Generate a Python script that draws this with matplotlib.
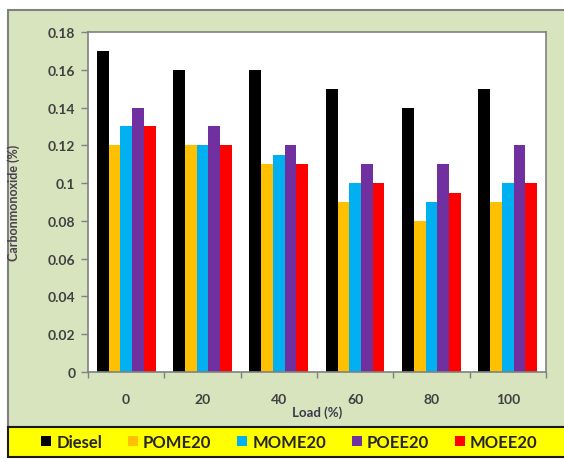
import matplotlib
matplotlib.use("Agg")
import matplotlib.pyplot as plt
from matplotlib.patches import Rectangle
from matplotlib.ticker import FixedLocator, FuncFormatter
import numpy as np

# Engine load (%) and CO emissions (%) per fuel blend
loads = ["0", "20", "40", "60", "80", "100"]
diesel = [0.17, 0.16, 0.16, 0.15, 0.14, 0.15]
pome20 = [0.12, 0.12, 0.11, 0.09, 0.08, 0.09]
mome20 = [0.13, 0.12, 0.115, 0.10, 0.09, 0.10]
poee20 = [0.14, 0.13, 0.12, 0.11, 0.11, 0.12]
moee20 = [0.13, 0.12, 0.11, 0.10, 0.095, 0.10]

series_names = ["Diesel", "POME20", "MOME20", "POEE20", "MOEE20"]
series_colors = ["#000000", "#FFC000", "#00B0F0", "#7030A0", "#FF0000"]
series_values = [diesel, pome20, mome20, poee20, moee20]

plt.rcParams["font.family"] = ["Lato", "DejaVu Sans"]
plt.rcParams["font.weight"] = "bold"
text_color = "#404040"

fig = plt.figure(figsize=(5.64, 4.60), dpi=100)
fig.patch.set_facecolor("white")

# Green chart panel and yellow legend strip
fig.add_artist(Rectangle((0.0142, 0.0696), 1.0, 0.9064, transform=fig.transFigure,
                         facecolor="#D7E4BD", edgecolor="#808080", linewidth=1.5, zorder=0))
fig.add_artist(Rectangle((0.0142, 0.0043), 1.0, 0.0653, transform=fig.transFigure,
                         facecolor="#FFFF00", edgecolor="#1a1a1a", linewidth=1.5, zorder=0))

ax = fig.add_axes([0.156, 0.1891, 0.812, 0.7392])
ax.set_facecolor("white")

x = np.arange(len(loads))
w = 1 / 6.5
handles = []
for i, (name, color, vals) in enumerate(zip(series_names, series_colors, series_values)):
    h = ax.bar(x + (i - 2) * w, vals, width=w, color=color, label=name, linewidth=0)
    handles.append(h)

ax.set_xlim(-0.5, len(loads) - 0.5)
ax.set_ylim(0, 0.18)
ax.set_yticks(np.arange(0, 0.1801, 0.02))
ax.yaxis.set_major_formatter(FuncFormatter(lambda v, p: "%g" % round(v, 2)))

ax.set_xticks(x)
ax.set_xticklabels(loads)
ax.xaxis.set_minor_locator(FixedLocator(np.arange(-0.5, len(loads), 1.0)))
ax.tick_params(axis="x", which="major", length=0, pad=15, labelsize=10, labelcolor=text_color)
ax.tick_params(axis="x", which="minor", length=4, direction="out", color="#808080", width=1)
ax.tick_params(axis="y", which="major", length=5, direction="out", color="#808080", width=1,
               labelsize=10, labelcolor=text_color, pad=4)

for s in ax.spines.values():
    s.set_color("#808080")
    s.set_linewidth(1.2)

ax.set_xlabel("Load (%)", fontsize=9.5, fontweight="bold", color="#3a3a4a", labelpad=0)
ax.set_ylabel("Carbonmonoxide (%)", fontsize=9, fontweight="bold", color="#4a4050")
ax.yaxis.set_label_coords(-0.148, 0.5)

fig.legend(handles=handles, labels=series_names, loc="center", bbox_to_anchor=(0.513, 0.037),
           ncol=5, frameon=False, handlelength=0.6, handleheight=0.6,
           handletextpad=0.3, columnspacing=1.55, labelcolor="#262626",
           prop={"weight": "bold", "size": 12})

fig.savefig("out.png", dpi=100)
